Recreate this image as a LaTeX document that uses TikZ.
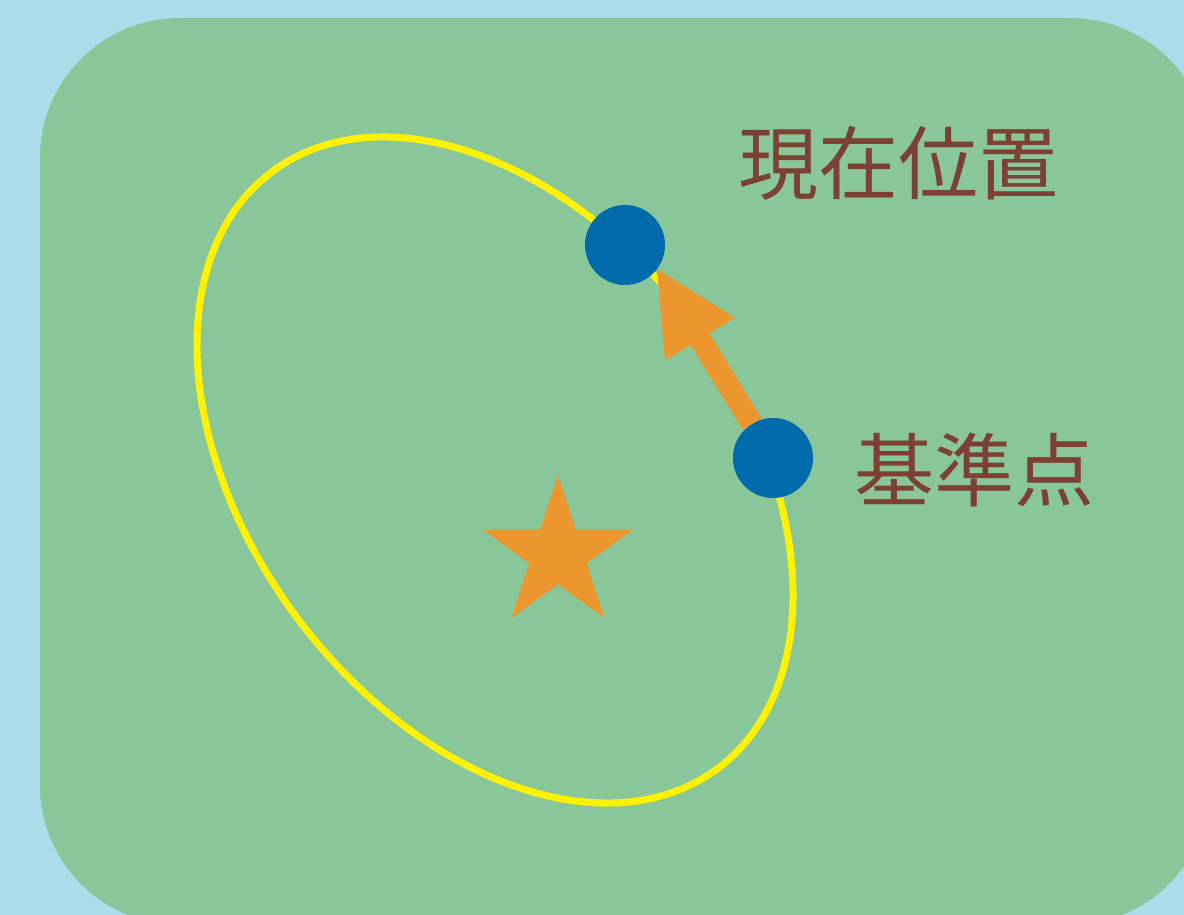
\documentclass[tikz,border=0pt]{standalone}
\usepackage{fontspec}
\newfontfamily\cjk{Noto Sans CJK JP}
\usetikzlibrary{arrows.meta}
\definecolor{bgblue}{RGB}{172,219,234}
\definecolor{panelgreen}{RGB}{137,198,153}
\definecolor{orbityellow}{RGB}{255,242,0}
\definecolor{dotblue}{RGB}{0,107,170}
\definecolor{arroworange}{RGB}{236,150,46}
\definecolor{labelbrown}{RGB}{125,64,52}
\tikzset{
  dot/.style={circle, fill=dotblue, minimum size=80pt, inner sep=0pt},
  lbl/.style={text=labelbrown, font=\cjk\fontsize{80}{96}\selectfont, inner sep=0pt},
  orbit/.style={draw=orbityellow, line width=7pt},
  motion/.style={draw=arroworange, line width=22pt,
    -{Triangle[length=82pt, width=82pt, line width=0pt]}}
}
\begin{document}
\begin{tikzpicture}[x=1pt,y=1pt]
\clip (0,0) rectangle (1184,915);
\fill[bgblue] (0,0) rectangle (1184,915);
\fill[panelgreen, rounded corners=140pt] (40,-10) rectangle (1210,897);
\draw[orbit, rotate around={-53.25:(495,445)}] (495,445) ellipse [x radius=372.4, y radius=247];
\fill[arroworange, shift={(558,361)}] (90:79) -- (126:30.2) -- (162:79) -- (198:30.2) -- (234:79) -- (270:30.2) -- (306:79) -- (342:30.2) -- (18:79) -- (54:30.2) -- cycle;
\node[dot] (cur) at (625,670) {};
\node[dot] (base) at (773,457) {};
\draw[motion] (base) -- (cur.-37);
\node[lbl] (curlbl) at (898,752) {現在位置};
\node[lbl] (baselbl) at (974,445) {基準点};
\end{tikzpicture}
\end{document}
